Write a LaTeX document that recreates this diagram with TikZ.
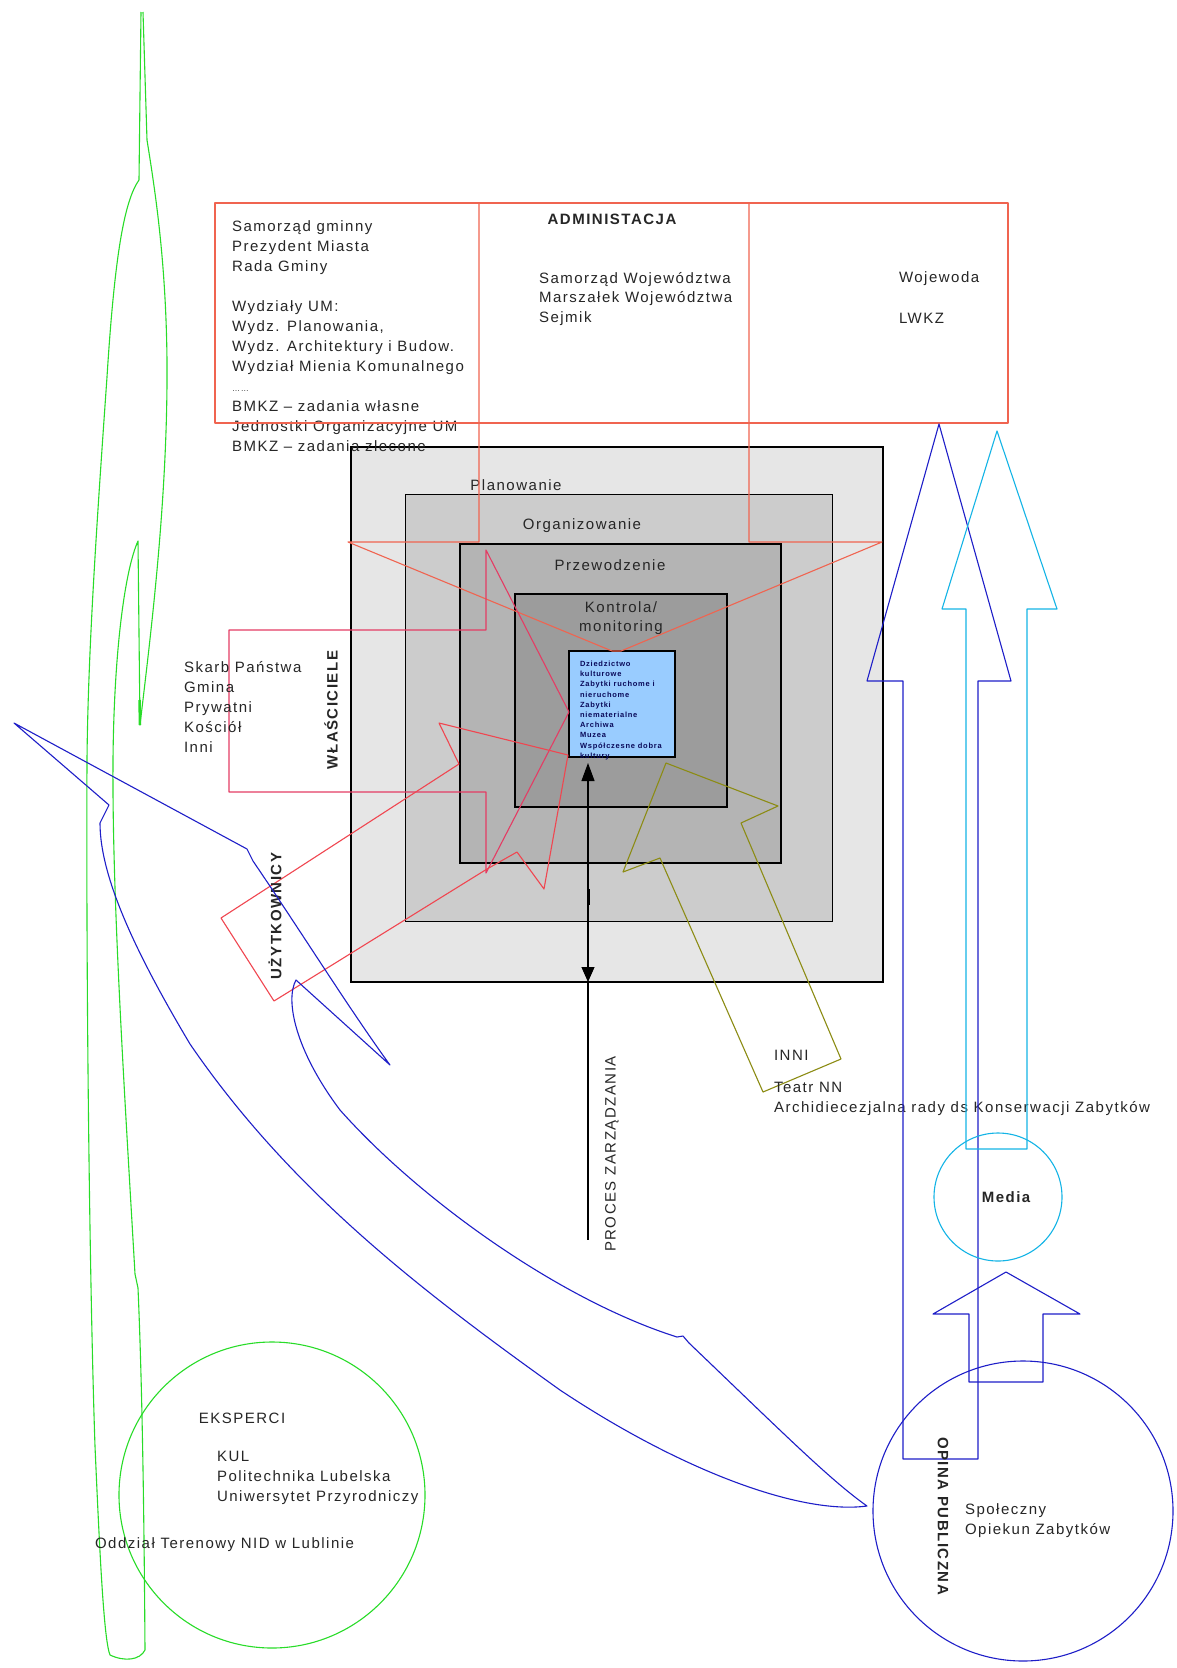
\documentclass[tikz,border=0pt]{standalone}
\usepackage{fontspec}
\setmainfont{Liberation Sans}[LetterSpace=10]
\usetikzlibrary{arrows.meta}
\definecolor{admred}{RGB}{240,100,80}
\definecolor{ownpink}{RGB}{228,60,100}
\definecolor{usrred}{RGB}{240,70,80}
\definecolor{olive}{RGB}{140,140,20}
\definecolor{grn}{RGB}{40,220,40}
\definecolor{dblue}{RGB}{30,30,200}
\definecolor{cyanb}{RGB}{20,180,230}
\definecolor{boxblue}{RGB}{153,204,255}
\definecolor{gA}{RGB}{230,230,230}
\definecolor{gB}{RGB}{204,204,204}
\definecolor{gC}{RGB}{180,180,180}
\definecolor{gD}{RGB}{156,156,156}
\definecolor{navy}{RGB}{10,10,90}
\tikzset{
  sq/.style={draw=black, rectangle, inner sep=0pt, outer sep=0pt},
  txt/.style={inner sep=0pt, outer sep=0pt, font=\fontsize{15}{20}\selectfont, text=black!85},
  blk/.style={txt, align=left, anchor=north west},
  bold/.style={txt, font=\fontsize{15}{20}\selectfont\bfseries},
  thinline/.style={line width=1.1pt, line join=round},
}
\begin{document}
\begin{tikzpicture}[x=1pt,y=-1pt]
\useasboundingbox (0,0) rectangle (1176,1668);
\fill[white] (0,0) rectangle (1176,1668);

% nested management squares
\node[sq, fill=gA, line width=2.6pt, minimum width=532pt, minimum height=535pt] (plan) at (617,714.5) {};
\node[sq, fill=gB, line width=1pt, minimum width=427pt, minimum height=427pt] (org) at (618.5,707.5) {};
\node[sq, fill=gC, line width=2pt, minimum width=321pt, minimum height=319pt] (lead) at (620.5,703.5) {};
\node[sq, fill=gD, line width=1.4pt, minimum width=212pt, minimum height=213pt] (ctrl) at (621,700.5) {};
\node[sq, fill=boxblue, line width=1.4pt, minimum width=106pt, minimum height=106pt] (herit) at (622,704) {};

\node[txt] (lplan) at (516,485) {Planowanie};
\node[txt] (lorg) at (582,526) {Organizowanie};
\node[txt] (llead) at (610,565) {Przewodzenie};
\node[txt, align=center, font=\fontsize{15}{19.5}\selectfont] (lctrl) at (621,618) {Kontrola/\\monitoring};
\node[blk, text=navy, font=\fontsize{7.5}{10.2}\selectfont\bfseries] (lherit) at (580,661) {Dziedzictwo\\kulturowe\\Zabytki ruchome i\\nieruchome\\Zabytki\\niematerialne\\Archiwa\\Muzea\\Współczesne dobra\\kultury};

% administration block
\node[blk] (gmina) at (232,221) {Samorząd gminny\\Prezydent Miasta\\Rada Gminy\\[20pt]Wydziały UM:\\Wydz. Planowania,\\Wydz. Architektury i Budow.\\Wydział Mienia Komunalnego\\{\fontsize{8}{20}\selectfont\ldots\ldots}\\BMKZ – zadania własne\\Jednostki Organizacyjne UM\\BMKZ – zadania zlecone};
\draw[admred, thinline] (215,203) rectangle (1008,423);
\draw[admred, thinline] (479,203) -- (479,542) -- (348,542) -- (612,651) -- (621,651) -- (882,542) -- (749,542) -- (749,203);
\node[bold] (ladm) at (612,219) {ADMINISTACJA};
\node[blk, font=\fontsize{15}{19.5}\selectfont] (woj) at (539,272) {Samorząd Województwa\\Marszałek Województwa\\Sejmik};
\node[txt, anchor=west] (wojewoda) at (899,279) {Wojewoda};
\node[txt, anchor=west] (lwkz) at (899,318) {LWKZ};

% owners arrow
\draw[ownpink, thinline] (229,630) -- (486,630) -- (486,550) -- (569,712) -- (486,873) -- (486,792) -- (229,792) -- cycle;
\node[blk] (owners) at (184,661) {Skarb Państwa\\Gmina\\Prywatni\\Kościół\\Inni};
\node[bold, rotate=90] (lown) at (331,710) {WŁAŚCICIELE};

% users arrow
\draw[usrred, thinline] (221,918) -- (459,764) -- (439,723) -- (568,755) -- (544,889) -- (517,852) -- (487,869) -- (274,1001) -- cycle;
\node[bold, rotate=90] (lusr) at (275,916) {UŻYTKOWNICY};

% others arrow
\draw[olive, thinline] (666,763) -- (778,806) -- (741,823) -- (841,1059) -- (763,1092) -- (660,858) -- (623,872) -- cycle;
\node[blk] (others) at (774,1050) {INNI\\[12pt]Teatr NN\\Archidiecezjalna rady ds Konserwacji Zabytków};

% management process
\coordinate (pzTop) at (588,763);
\coordinate (pzMid) at (588,982);
\coordinate (pzBot) at (588,1240);
\draw[line width=1.1pt, {Triangle[length=18pt,width=13pt]}-{Triangle[length=15pt,width=13pt]}] (pzTop) -- (pzMid);
\draw[line width=1.1pt] (pzMid) -- (pzBot);
\draw[line width=3pt] (588,889) -- (588,905);
\node[txt, rotate=90] (lproc) at (612,1154) {PROCES ZARZĄDZANIA};

% green shape (experts)
\draw[grn, thinline] (141,12) -- (139,180)
  .. controls (125,200) and (115,250) .. (107,377)
  .. controls (97,520) and (88,650) .. (87,760)
  .. controls (86,1000) and (90,1300) .. (95,1446)
  .. controls (100,1560) and (104,1640) .. (110,1655)
  .. controls (125,1662) and (140,1660) .. (145,1650)
  .. controls (144,1500) and (142,1380) .. (138,1288) -- (135,1274)
  .. controls (125,1100) and (112,900) .. (113,760)
  .. controls (114,650) and (125,570) .. (138,541)
  -- (140,725)
  .. controls (150,640) and (168,500) .. (167,361)
  .. controls (166,260) and (155,190) .. (147,140)
  -- (143,12);
\draw[grn, line width=2.5pt] (139.5,700) -- (140,725);
\node[txt, circle, draw=grn, line width=1.1pt, minimum size=306pt] (expc) at (272,1495) {};
\node[txt] (lexp) at (242,1418) {EKSPERCI};
\node[blk] (exps) at (217,1451) {KUL\\Politechnika Lubelska\\Uniwersytet Przyrodniczy};
\node[txt, anchor=west] (nid) at (95,1545) {Oddział Terenowy NID w Lublinie};

% blue comet shape
\draw[dblue, thinline] (14,723) -- (109,805) -- (100,823)
  .. controls (100,880) and (140,960) .. (190,1044)
  .. controls (290,1190) and (420,1290) .. (560,1390)
  .. controls (680,1470) and (800,1515) .. (867,1506)
  .. controls (830,1480) and (780,1430) .. (689,1343) -- (683,1336) -- (677,1337)
  .. controls (560,1300) and (420,1200) .. (340,1110)
  .. controls (295,1050) and (285,1000) .. (296,980)
  -- (390,1065)
  .. controls (350,1010) and (300,930) .. (253,861) -- (247,849)
  -- cycle;

% public opinion arrows and circles
\draw[dblue, thinline] (939,424) -- (1011,681) -- (978,681) -- (978,1459) -- (903,1459) -- (903,681) -- (867,681) -- cycle;
\draw[cyanb, thinline] (997,431) -- (1057,609) -- (1027,609) -- (1027,1149) -- (966,1149) -- (966,609) -- (942,609) -- cycle;
\node[txt, circle, draw=cyanb, line width=1.1pt, minimum size=128pt] (media) at (998,1197) {};
\node[bold] (lmedia) at (1006,1197) {Media};
\draw[dblue, thinline] (1006,1272) -- (1080,1314) -- (1043,1314) -- (1043,1382) -- (969,1382) -- (969,1314) -- (933,1314) -- cycle;
\node[txt, circle, draw=dblue, line width=1.1pt, minimum size=300pt] (pubc) at (1023,1511) {};
\node[bold, rotate=-90] (lpub) at (943,1516) {OPINA PUBLICZNA};
\node[blk] (soc) at (965,1504) {Społeczny\\Opiekun Zabytków};
\end{tikzpicture}
\end{document}
